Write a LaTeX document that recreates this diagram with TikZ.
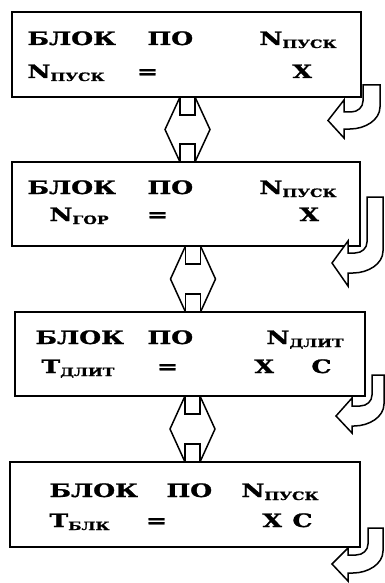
\documentclass[tikz,border=0pt]{standalone}
\usepackage{fontspec}
\usepackage{graphicx}
\newfontfamily\dispfont{DejaVu Serif}[BoldFont=DejaVu Serif Bold, BoldFeatures={FakeBold=1.2}]
\newcommand\mainf{\dispfont\bfseries\fontsize{18.5}{18.5}\selectfont}
\newcommand\W[1]{\scalebox{1.36}[1]{#1}}
\newcommand\subs[1]{\raisebox{-3pt}{\fontsize{11.5}{11.5}\selectfont #1}}
\tikzset{
  txt/.style={anchor=base west, inner sep=0pt, outer sep=0pt, font=\mainf},
  panel/.style={draw, line width=2.2pt, fill=white, inner sep=0pt, outer sep=0pt},
  arr/.style={draw, line width=1.5pt, fill=white, line join=miter}
}
\newcommand\vdarrow[3]{%
  \draw[arr] ({#1-7.5},#2) -- ({#1-22.5},{(#2+#3)/2}) -- ({#1-7.5},#3) -- ({#1+7.5},#3) -- ({#1+22.5},{(#2+#3)/2}) -- ({#1+7.5},#2) -- cycle;
  \draw[arr] ({#1-7.5},#2) -- ({#1-7.5},{#2+18}) -- ({#1+7.5},{#2+18}) -- ({#1+7.5},#2);
  \draw[arr] ({#1-7.5},#3) -- ({#1-7.5},{#3-18}) -- ({#1+7.5},{#3-18}) -- ({#1+7.5},#3);
}
% xl, xr, yt, yi, yo, xb, yb1, yb2, xt
\newcommand\bentarr[9]{%
  \draw[arr] (#1,#3) -- (#2,#3) -- (#2,{#5-22}) .. controls (#2,{#5-9}) and ({#2-15},#5) .. ({#2-30},#5)
    -- (#6,#5) -- (#6,#8) -- (#9,{(#4+#5)/2}) -- (#6,#7) -- (#6,#4) -- ({#1-12},#4)
    .. controls ({#1-5},#4) and (#1,{#4-5}) .. (#1,{#4-11}) -- cycle;
}
\begin{document}
\begin{tikzpicture}[x=1pt,y=-1pt]
\useasboundingbox (0,0) rectangle (385,583);
% double arrows between panels
\vdarrow{187.5}{97}{162}
\vdarrow{193}{246}{312}
\vdarrow{192.5}{396}{462}
% panels
\node[panel, minimum width=349pt, minimum height=85pt] (p1) at (186.5,54.5) {};
\node[panel, minimum width=348pt, minimum height=84pt] (p2) at (186,204) {};
\node[panel, minimum width=350pt, minimum height=84pt] (p3) at (190,354) {};
\node[panel, minimum width=350pt, minimum height=85pt] (p4) at (185,504.5) {};
% bent arrows
\bentarr{363}{380}{85}{112}{129}{344}{100}{138}{328}
\bentarr{367}{383}{197}{253}{273}{348}{241}{286}{332}
\bentarr{372}{384}{375}{406}{426}{352}{398}{433}{336}
\bentarr{368}{383}{528}{555}{573}{348}{548}{581}{332}
% panel 1 text
\node[txt] (t1a) at (27.5,45) {\W{БЛОК}};
\node[txt] (t1b) at (147.5,45) {\W{ПО}};
\node[txt] (t1c) at (259.5,45) {\W{N\subs{ПУСК}}};
\node[txt] (t1d) at (27.5,78) {\W{N\subs{ПУСК}}};
\node[txt] (t1e) at (137,78) {\W{=}};
\node[txt] (t1f) at (292.5,78) {\W{X}};
% panel 2 text
\node[txt] (t2a) at (27.5,194) {\W{БЛОК}};
\node[txt] (t2b) at (147.5,194) {\W{ПО}};
\node[txt] (t2c) at (259.5,194) {\W{N\subs{ПУСК}}};
\node[txt] (t2d) at (49.5,221) {\W{N\subs{ГОР}}};
\node[txt] (t2e) at (147,221) {\W{=}};
\node[txt] (t2f) at (299.5,221) {\W{X}};
% panel 3 text
\node[txt] (t3a) at (35.5,344) {\W{БЛОК}};
\node[txt] (t3b) at (147.5,344) {\W{ПО}};
\node[txt] (t3c) at (266.5,344) {\W{N\subs{ДЛИТ}}};
\node[txt] (t3d) at (41.5,373) {\W{T\subs{ДЛИТ}}};
\node[txt] (t3e) at (157,373) {\W{=}};
\node[txt] (t3f) at (254.5,373) {\W{X}};
\node[txt] (t3g) at (311.5,373) {\W{С}};
% panel 4 text
\node[txt] (t4a) at (49.5,497) {\W{БЛОК}};
\node[txt] (t4b) at (166.5,497) {\W{ПО}};
\node[txt] (t4c) at (241.5,497) {\W{N\subs{ПУСК}}};
\node[txt] (t4d) at (49.5,527) {\W{T\subs{БЛК}}};
\node[txt] (t4e) at (146,527) {\W{=}};
\node[txt] (t4f) at (262.5,527) {\W{X}};
\node[txt] (t4g) at (292.5,527) {\W{С}};
\end{tikzpicture}
\end{document}
